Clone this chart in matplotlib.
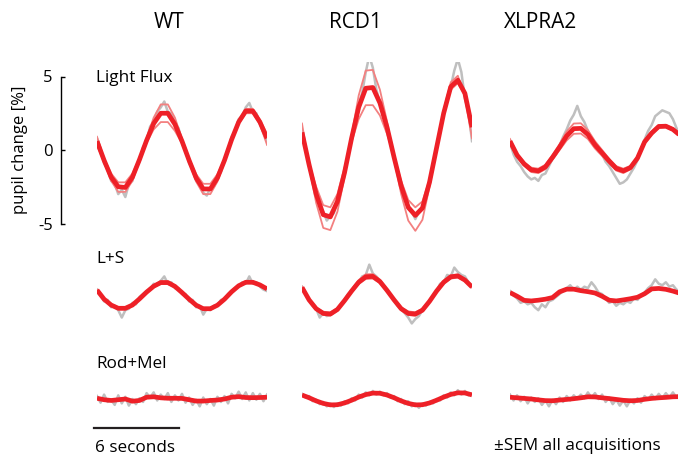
import numpy as np
import matplotlib
matplotlib.use('Agg')
import matplotlib.pyplot as plt

plt.rcParams['font.family'] = ['Open Sans', 'DejaVu Sans']

# Column / row names
groups = ['WT', 'RCD1', 'XLPRA2']
conditions = ['Light Flux', 'L+S', 'Rod+Mel']

# ---- Light Flux: fitted response (every 0.5 s over 12 s) ----
wt_lf_fit = [0.6, -0.7, -1.85, -2.5, -2.55, -1.85, -0.65, 0.65, 1.8, 2.5, 2.5, 1.75, 0.6,
             -0.7, -1.9, -2.65, -2.65, -1.9, -0.7, 0.7, 1.9, 2.65, 2.65, 1.9, 0.8]
wt_lf_hi = [0.9, -0.6, -1.6, -2.2, -2.2, -1.6, -0.55, 0.8, 2.2, 3.1, 3.1, 2.2, 0.75,
            -0.6, -1.65, -2.3, -2.3, -1.65, -0.6, 0.75, 2.0, 2.8, 2.8, 2.05, 1.1]
wt_lf_lo = [0.3, -0.8, -2.1, -2.85, -2.85, -2.1, -0.75, 0.5, 1.4, 1.9, 1.9, 1.3, 0.45,
            -0.8, -2.15, -3.0, -3.0, -2.15, -0.8, 0.65, 1.8, 2.5, 2.5, 1.75, 0.35]

rcd1_lf_fit = [1.2, -1.0, -3.0, -4.4, -4.55, -3.5, -1.55, 0.8, 2.9, 4.2, 4.25, 3.2, 1.55,
               -0.5, -2.45, -3.9, -4.45, -3.95, -2.2, 0.15, 2.5, 4.3, 4.75, 3.85, 1.55]
rcd1_lf_hi = [1.8, -1.1, -3.6, -5.3, -5.45, -4.2, -1.85, 1.0, 3.7, 5.4, 5.45, 4.1, 1.95,
              -0.6, -3.0, -4.8, -5.5, -4.75, -2.5, 0.1, 2.7, 4.6, 5.05, 3.6, 0.8]
rcd1_lf_lo = [1.0, -0.9, -2.5, -3.75, -3.9, -3.0, -1.2, 0.55, 2.1, 3.05, 3.05, 2.35, 1.1,
              -0.45, -2.1, -3.4, -3.9, -3.5, -2.0, 0.15, 2.35, 4.1, 4.55, 3.75, 1.6]

xlpra2_lf_fit = [0.6, -0.35, -0.95, -1.35, -1.42, -1.15, -0.5, 0.2, 0.95, 1.45, 1.47, 1.05, 0.35,
                 -0.2, -0.75, -1.25, -1.42, -1.2, -0.55, 0.55, 1.15, 1.6, 1.62, 1.4, 1.0]
xlpra2_lf_hi = [0.75, -0.25, -0.83, -1.2, -1.27, -1.0, -0.35, 0.4, 1.25, 1.8, 1.82, 1.35, 0.6,
                0.0, -0.6, -1.1, -1.27, -1.08, -0.45, 0.65, 1.25, 1.7, 1.7, 1.48, 1.08]
xlpra2_lf_lo = [0.45, -0.45, -1.07, -1.5, -1.57, -1.3, -0.65, 0.0, 0.65, 1.1, 1.12, 0.75, 0.1,
                -0.4, -0.9, -1.4, -1.57, -1.32, -0.65, 0.45, 1.05, 1.5, 1.54, 1.32, 0.92]

# ---- L+S ----
wt_ls_fit = [0.37, -0.25, -0.65, -0.87, -0.87, -0.65, -0.23, 0.23, 0.63, 0.88, 0.88, 0.62, 0.2,
             -0.25, -0.66, -0.9, -0.9, -0.66, -0.25, 0.25, 0.66, 0.9, 0.9, 0.72, 0.45]
wt_ls_hi = [0.4, -0.23, -0.6, -0.8, -0.8, -0.6, -0.21, 0.26, 0.7, 0.97, 0.97, 0.69, 0.23,
            -0.23, -0.61, -0.83, -0.83, -0.61, -0.23, 0.27, 0.71, 0.96, 0.96, 0.77, 0.48]
wt_ls_lo = [0.34, -0.27, -0.7, -0.94, -0.94, -0.7, -0.25, 0.2, 0.56, 0.78, 0.78, 0.55, 0.17,
            -0.27, -0.71, -0.97, -0.97, -0.71, -0.27, 0.23, 0.61, 0.84, 0.84, 0.67, 0.42]

rcd1_ls_fit = [0.55, -0.3, -0.9, -1.22, -1.26, -0.95, -0.35, 0.3, 0.9, 1.27, 1.3, 0.95, 0.35,
               -0.3, -0.9, -1.22, -1.26, -1.0, -0.4, 0.3, 0.9, 1.27, 1.33, 1.05, 0.58]
rcd1_ls_hi = [0.6, -0.25, -0.82, -1.1, -1.15, -0.86, -0.28, 0.4, 1.05, 1.44, 1.46, 1.08, 0.42,
              -0.25, -0.8, -1.08, -1.14, -0.9, -0.34, 0.36, 1.0, 1.38, 1.44, 1.12, 0.62]
rcd1_ls_lo = [0.5, -0.35, -0.98, -1.32, -1.37, -1.04, -0.42, 0.22, 0.78, 1.12, 1.15, 0.84, 0.28,
              -0.35, -1.0, -1.33, -1.38, -1.1, -0.46, 0.24, 0.8, 1.15, 1.22, 0.98, 0.54]

xlpra2_ls_fit = [0.2, -0.05, -0.33, -0.37, -0.32, -0.25, -0.14, 0.25, 0.43, 0.43, 0.33, 0.26, 0.17,
                 -0.05, -0.32, -0.37, -0.3, -0.22, -0.12, 0.12, 0.45, 0.48, 0.42, 0.3, 0.15]

# ---- Rod+Mel ----
wt_rm_fit = [0.05, -0.05, -0.1, -0.05, 0.0, -0.15, -0.1, 0.12, 0.15, 0.08, 0.05, 0.05, 0.04,
             -0.05, -0.14, -0.14, -0.1, -0.07, 0.0, 0.12, 0.16, 0.1, 0.09, 0.1, 0.12]
rcd1_rm_fit = [0.27, 0.085, -0.13, -0.3, -0.4, -0.39, -0.27, -0.085, 0.13, 0.3, 0.4, 0.39, 0.27,
               0.085, -0.13, -0.3, -0.4, -0.39, -0.27, -0.085, 0.13, 0.31, 0.42, 0.41, 0.28]
xlpra2_rm_fit = [0.12, 0.08, 0.04, 0.0, -0.06, -0.11, -0.12, -0.07, -0.03, 0.02, 0.08, 0.15, 0.14,
                 0.08, 0.03, -0.03, -0.09, -0.12, -0.1, -0.02, 0.04, 0.08, 0.11, 0.15, 0.16]

# ---- raw mean traces (every 0.25 s over 12 s) ----
wt_lf_raw = [0.8, 0.1, -0.9, -1.3, -2.1, -2.3, -3.0, -2.7, -3.2, -2.3, -2.1, -1.2, -0.8, 0.2, 0.6,
             1.6, 1.9, 2.6, 2.9, 3.3, 2.6, 2.5, 1.8, 1.5, 0.6, 0.1, -0.9, -1.3, -2.1, -2.3, -2.9,
             -3.1, -2.6, -2.5, -1.8, -1.5, -0.6, -0.1, 0.9, 1.3, 2.1, 2.3, 2.9, 3.2, 2.6, 2.5, 1.8,
             1.2, 0.6]
rcd1_lf_raw = [1.4, 0.1, -0.9, -2.2, -2.9, -3.9, -4.2, -4.8, -4.5, -4.3, -3.4, -2.7, -1.5, -0.5,
               0.9, 1.9, 3.1, 3.9, 5.3, 6.4, 5.6, 4.1, 3.2, 2.6, 1.4, 0.7, -0.6, -1.4, -2.6, -3.1,
               -4.0, -4.2, -4.7, -4.2, -4.0, -3.0, -2.3, -0.9, 0.1, 1.5, 2.4, 3.6, 4.3, 5.4, 6.2,
               5.3, 3.5, 2.6, 0.6]
xlpra2_lf_raw = [0.5, -0.3, -0.8, -1.1, -1.5, -1.8, -2.0, -1.9, -2.1, -1.7, -1.6, -1.1, -0.6, -0.3,
                 0.3, 0.9, 1.4, 2.0, 2.4, 3.0, 2.3, 1.9, 1.3, 0.8, 0.3, -0.1, -0.3, -0.8, -1.1,
                 -1.5, -1.9, -2.3, -2.2, -2.0, -1.6, -1.2, -0.7, 0.1, 0.7, 1.3, 1.7, 2.3, 2.5, 2.7,
                 2.6, 2.5, 2.1, 1.5, 0.9]
wt_ls_raw = [0.4, 0.1, -0.4, -0.3, -0.8, -0.7, -1.0, -1.5, -1.0, -0.9, -0.5, -0.6, -0.1, 0.1, 0.3,
             0.4, 0.8, 0.7, 1.0, 1.3, 0.8, 0.9, 0.5, 0.5, 0.1, 0.1, -0.4, -0.3, -0.8, -0.7, -1.3,
             -0.9, -1.0, -0.7, -0.7, -0.3, -0.3, 0.1, 0.3, 0.5, 0.6, 0.9, 0.8, 1.3, 0.8, 0.9, 0.6,
             0.4, 0.3]
rcd1_ls_raw = [0.6, 0.2, -0.3, -0.7, -0.9, -1.5, -1.2, -1.4, -1.3, -1.1, -0.9, -0.6, -0.3, 0.1,
               0.3, 0.7, 0.9, 1.3, 1.4, 2.1, 1.5, 1.3, 1.0, 0.7, 0.3, 0.0, -0.3, -0.7, -0.9, -1.2,
               -1.5, -1.9, -1.6, -1.4, -1.0, -0.7, -0.4, 0.0, 0.3, 0.8, 0.9, 1.4, 1.3, 1.9, 1.6,
               1.4, 1.3, 0.9, 0.6]
xlpra2_ls_raw = [0.3, 0.0, -0.2, -0.5, -0.4, -0.6, -0.5, -0.8, -1.0, -0.6, -0.8, -0.4, -0.3, -0.1,
                 0.1, 0.3, 0.5, 0.7, 0.4, 0.6, 0.4, 0.6, 0.5, 0.9, 0.6, 0.2, 0.1, -0.2, -0.5, -0.4,
                 -0.7, -0.5, -0.6, -0.4, -0.5, -0.2, -0.3, 0.0, 0.2, 0.5, 0.7, 1.1, 0.8, 0.7, 0.9,
                 0.6, 0.7, 0.4, 0.3]
wt_rm_raw = [0.2, -0.25, 0.3, -0.2, -0.05, -0.4, 0.25, -0.3, 0.15, -0.45, 0.0, -0.35, 0.05, -0.2,
             0.4, 0.1, 0.45, -0.1, 0.3, 0.0, 0.4, -0.2, 0.25, -0.1, 0.35, -0.25, 0.1, -0.4, -0.05,
             -0.5, 0.1, -0.35, 0.0, -0.45, 0.15, -0.2, 0.2, -0.3, 0.35, 0.05, 0.5, 0.0, 0.45, -0.1,
             0.4, -0.05, 0.35, -0.15, 0.3]
rcd1_rm_raw = [0.35, 0.1, 0.2, -0.15, -0.05, -0.35, -0.2, -0.5, -0.3, -0.55, -0.3, -0.45, -0.15,
               -0.3, 0.05, -0.1, 0.3, 0.1, 0.45, 0.25, 0.55, 0.3, 0.5, 0.25, 0.4, 0.1, 0.2, -0.15,
               0.0, -0.35, -0.15, -0.5, -0.3, -0.6, -0.3, -0.45, -0.2, -0.3, 0.0, -0.1, 0.25, 0.1,
               0.45, 0.25, 0.6, 0.3, 0.55, 0.25, 0.35]
xlpra2_rm_raw = [0.3, -0.1, 0.25, -0.15, 0.15, -0.3, 0.1, -0.2, 0.05, -0.4, -0.1, -0.5, -0.05, -0.35,
                 0.1, -0.2, 0.2, -0.1, 0.25, 0.0, 0.3, 0.05, 0.45, 0.1, 0.4, 0.0, 0.3, -0.2, 0.1,
                 -0.35, -0.05, -0.45, -0.1, -0.5, -0.05, -0.3, 0.05, -0.25, 0.2, -0.05, 0.3, 0.0,
                 0.35, 0.05, 0.4, 0.1, 0.45, 0.1, 0.35]

# panels[row][col] = (raw, fit, sem_hi, sem_lo)
panels = [
    [(wt_lf_raw, wt_lf_fit, wt_lf_hi, wt_lf_lo),
     (rcd1_lf_raw, rcd1_lf_fit, rcd1_lf_hi, rcd1_lf_lo),
     (xlpra2_lf_raw, xlpra2_lf_fit, xlpra2_lf_hi, xlpra2_lf_lo)],
    [(wt_ls_raw, wt_ls_fit, wt_ls_hi, wt_ls_lo),
     (rcd1_ls_raw, rcd1_ls_fit, rcd1_ls_hi, rcd1_ls_lo),
     (xlpra2_ls_raw, xlpra2_ls_fit, None, None)],
    [(wt_rm_raw, wt_rm_fit, None, None),
     (rcd1_rm_raw, rcd1_rm_fit, None, None),
     (xlpra2_rm_raw, xlpra2_rm_fit, None, None)],
]

duration = 12.0
scale_bar_sec = 6

# layout in pixels
W, H = 678, 457
col_x = [97, 302, 510]
col_w = 170
row_zero = [150, 295.5, 399]
px_per_unit = 14.7
half = 6.0

gray = '#BFBFBF'
red = '#EE2027'
light_red = '#F38080'

fig = plt.figure(figsize=(W / 100, H / 100), dpi=100)


def px_axes(x0, zero_y, width):
    """Axes placed by pixel position, y range -half..half around zero_y."""
    bottom = 1 - (zero_y + half * px_per_unit) / H
    height = 2 * half * px_per_unit / H
    ax = fig.add_axes([x0 / W, bottom, width / W, height])
    ax.set_ylim(-half, half)
    ax.patch.set_visible(False)
    return ax


axes = []
for r in range(3):
    row_axes = []
    for c in range(3):
        raw, fit, hi, lo = panels[r][c]
        ax = px_axes(col_x[c], row_zero[r], col_w)
        ax.set_xlim(0, duration)
        ax.axis('off')
        ax.plot(np.linspace(0, duration, len(raw)), raw, color=gray, lw=1.8)
        t_fit = np.linspace(0, duration, len(fit))
        if hi is not None:
            ax.plot(t_fit, hi, color=light_red, lw=1.3)
            ax.plot(t_fit, lo, color=light_red, lw=1.3)
        ax.plot(t_fit, fit, color=red, lw=3.4, solid_capstyle='butt', solid_joinstyle='round')
        row_axes.append(ax)
    axes.append(row_axes)

# y axis for the top row only
ax_y = px_axes(61, row_zero[0], 30)
for side in ['top', 'right', 'bottom']:
    ax_y.spines[side].set_visible(False)
ax_y.spines['left'].set_bounds(-5, 5)
ax_y.spines['left'].set_linewidth(1.0)
ax_y.set_xticks([])
ax_y.set_yticks([-5, 0, 5])
ax_y.set_yticklabels(['-5', '0', '5'])
ax_y.tick_params(axis='y', direction='in', length=3, width=1, labelsize=12, pad=6)

fig.text(20 / W, 1 - 150 / H, 'pupil change [%]', rotation=90, ha='center', va='center', fontsize=12)

# column titles
title_x = [169, 355, 541]
for name, x in zip(groups, title_x):
    fig.text(x / W, 1 - 28 / H, name, ha='center', va='baseline', fontsize=15)

# condition labels
label_base = [82, 263, 368]
for name, yb in zip(conditions, label_base):
    fig.text(96 / W, 1 - yb / H, name, ha='left', va='baseline', fontsize=12.3)

# scale bar
bar_ax = axes[2][0]
bar_y = (row_zero[2] - 428) / px_per_unit
bar_x0 = -0.2
bar_ax.plot([bar_x0, bar_x0 + scale_bar_sec], [bar_y, bar_y], color='#231F20', lw=1.6, clip_on=False)
fig.text(95 / W, 1 - 451.5 / H, '%d seconds' % scale_bar_sec, ha='left', va='baseline', fontsize=12.3)

fig.text(494 / W, 1 - 449.5 / H, '\u00b1SEM all acquisitions', ha='left', va='baseline', fontsize=12.3)

fig.savefig('out.png', dpi=100)
